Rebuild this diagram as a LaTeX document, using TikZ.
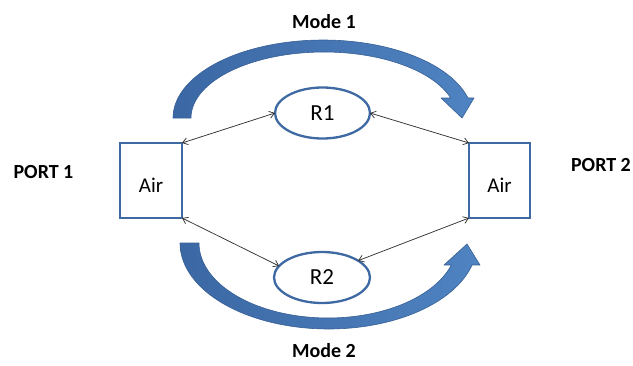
\documentclass[tikz,border=0pt]{standalone}
\usepackage{fontspec}
\setmainfont{Carlito}
\usetikzlibrary{shapes.geometric,arrows.meta}
\definecolor{edgeblue}{HTML}{3E69A3}
\definecolor{arrowdark}{HTML}{3B68A4}
\definecolor{arrowlight}{HTML}{4F83C1}
\definecolor{arrowedge}{HTML}{385F96}

\begin{document}
\begin{tikzpicture}[x=1pt,y=-1pt,
  portbox/.style={draw=edgeblue,line width=2.3pt,minimum width=62pt,minimum height=75pt,
    inner sep=0pt,outer sep=0pt,text height=24pt,text depth=0pt,font=\fontsize{21}{24}\selectfont},
  resbox/.style={ellipse,draw=edgeblue,line width=2.3pt,minimum width=95pt,minimum height=51pt,
    inner sep=0pt,outer sep=0pt,font=\fontsize{23}{26}\selectfont},
  biglabel/.style={inner sep=0pt,font=\bfseries\fontsize{20}{24}\selectfont},
  link/.style={draw=black!80,line width=0.75pt,
    {Straight Barb[length=5pt,width=7pt]}-{Straight Barb[length=5pt,width=7pt]}},
  bendarrow/.style={left color=arrowdark,right color=arrowlight,draw=arrowedge,
    line width=0.6pt,line join=round}
]
\useasboundingbox (0,0) rectangle (633,365);

% curved mode arrows
\path[bendarrow]
  plot[domain=180:345.1,samples=80] ({323+150*cos(\x)},{118+78*sin(\x)})
  -- (474,98) -- (462,118) -- (441,98)
  -- plot[domain=342.4:180,samples=80] ({324+133*cos(\x)},{118+66*sin(\x)})
  -- cycle;
\path[bendarrow]
  plot[domain=180:14.8,samples=80] ({328.5+148.5*cos(\x)},{243+86*sin(\x)})
  -- (480,265) -- (467,244) -- (444,265)
  -- plot[domain=17.06:180,samples=80] ({328+129*cos(\x)},{243+75*sin(\x)})
  -- cycle;

% ports and resonators
\node[portbox] (L) at (151,180.5) {Air};
\node[portbox,minimum width=61pt] (R) at (499.5,180.5) {Air};
\node[resbox] (R1) at (322.5,113) {R1};
\node[resbox,minimum width=96pt] (R2) at (322,277.5) {R2};

% labels
\node[biglabel] (m1) at (324,22) {Mode 1};
\node[biglabel] (m2) at (324,350.5) {Mode 2};
\node[biglabel] (p1) at (43.5,172) {PORT 1};
\node[biglabel] (p2) at (601,165) {PORT 2};

% couplings
\draw[link] (L.north east) -- (R1.west);
\draw[link] (R1.east) -- (R.north west);
\draw[link] (L.south east) -- (R2.165);
\draw[link] (R2.25) -- (R.south west);
\end{tikzpicture}
\end{document}
